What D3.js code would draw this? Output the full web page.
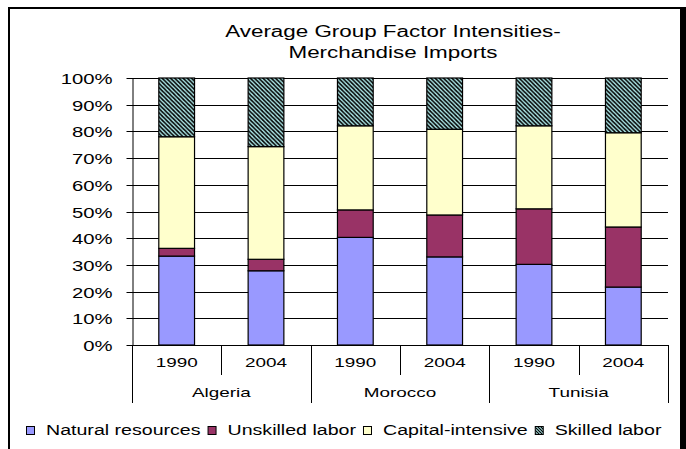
<!DOCTYPE html>
<html>
<head>
<meta charset="utf-8">
<script src="https://cdn.jsdelivr.net/npm/d3@7"></script>
<style>
  html, body { margin: 0; padding: 0; background: #fff; }
  svg { display: block; font-family: "Liberation Sans", Arial, sans-serif; }
</style>
</head>
<body>
<svg id="chart" width="686" height="449"></svg>
<script>
// Category hierarchy along the x axis
const countries = ["Algeria", "Morocco", "Tunisia"];
const years = ["1990", "2004"];

// Series (percent share of each factor group, per country-year)
const seriesNames = ["Natural resources", "Unskilled labor", "Capital-intensive", "Skilled labor"];
const naturalResources = [33.3, 27.8, 40.3, 33.0, 30.2, 21.7];
const unskilledLabor   = [2.9, 4.3, 10.3, 15.7, 20.8, 22.5];
const capitalIntensive = [41.8, 42.2, 31.5, 32.1, 31.1, 35.3];
const skilledLabor     = [22.0, 25.7, 17.9, 19.2, 17.9, 20.5];

// Y axis ticks
const yTicks = [0, 0.1, 0.2, 0.3, 0.4, 0.5, 0.6, 0.7, 0.8, 0.9, 1.0];

const titleLines = ["Average Group Factor Intensities-", "Merchandise Imports"];

const fills = ["#9999ff", "#993366", "#ffffcc", "url(#skilled)"];
const swatchFills = ["#9999ff", "#993366", "#ffffcc", "url(#skilledSmall)"];
const SX = 1.4; // horizontal stretch of the text

const svg = d3.select("#chart");

// Diagonal hatch used for the skilled-labor segments
const defs = svg.append("defs");
function hatch(id, size, sw) {
  const p = defs.append("pattern").attr("id", id)
    .attr("patternUnits", "userSpaceOnUse")
    .attr("width", size).attr("height", size);
  p.append("rect").attr("width", size).attr("height", size).attr("fill", "#aee8e8");
  p.append("path")
    .attr("d", `M0,0L${size},${size}M${-size/2},${size/2}L${size/2},${size*1.5}M${size/2},${-size/2}L${size*1.5},${size/2}`)
    .attr("stroke", "#000").attr("stroke-width", sw);
}
hatch("skilled", 4.2, 1.6);
hatch("skilledSmall", 3, 1.2);

// Rows: one per country-year
const rows = [];
countries.forEach((c, ci) => years.forEach((yr, yi) => {
  const i = ci * years.length + yi;
  rows.push({
    key: i, country: c, year: yr,
    "Natural resources": naturalResources[i],
    "Unskilled labor": unskilledLabor[i],
    "Capital-intensive": capitalIntensive[i],
    "Skilled labor": skilledLabor[i]
  });
}));

const stacked = d3.stack().keys(seriesNames).offset(d3.stackOffsetExpand)(rows);

const plot = { left: 132, right: 668, top: 78, bottom: 345 };

const x = d3.scaleBand().domain(rows.map(d => d.key)).range([plot.left, plot.right]).padding(0);
const y = d3.scaleLinear().domain([0, 1]).range([plot.bottom, plot.top]);
const barW = x.bandwidth() * 0.4;
const crisp = v => Math.round(v) + 0.5;

function stretchedText(g, tx, ty, txt, anchor, size, weight) {
  return g.append("text")
    .attr("transform", `translate(${tx},${ty}) scale(${SX},1)`)
    .attr("text-anchor", anchor)
    .attr("font-size", size)
    .attr("font-weight", weight || "normal")
    .attr("fill", "#000")
    .text(txt);
}

// Chart frame
svg.append("path")
  .attr("d", "M9,449V8H683")
  .attr("fill", "none").attr("stroke", "#000").attr("stroke-width", 2);
svg.append("rect")
  .attr("x", 680).attr("y", 7).attr("width", 6).attr("height", 442)
  .attr("fill", "#000");

// Title
titleLines.forEach((t, i) => stretchedText(svg, 393, 37 + i * 21, t, "middle", 16));

// Gridlines
svg.append("g").selectAll("line").data(yTicks.filter(t => t > 0)).join("line")
  .attr("x1", plot.left).attr("x2", plot.right)
  .attr("y1", d => crisp(y(d))).attr("y2", d => crisp(y(d)))
  .attr("stroke", "#000").attr("stroke-width", 1);

// Y axis
const yAxis = svg.append("g")
  .attr("transform", `translate(${crisp(plot.left)},0)`)
  .call(d3.axisLeft(y).tickValues(yTicks).tickFormat(d3.format(".0%")).tickSizeOuter(0).tickSizeInner(6))
  .call(g => g.select(".domain").attr("stroke", "#000"))
  .call(g => g.selectAll(".tick line").attr("stroke", "#000"));
yAxis.selectAll(".tick")
  .attr("transform", d => `translate(0,${crisp(y(d))})`);
yAxis.selectAll(".tick text")
  .attr("font-family", "'Liberation Sans', Arial, sans-serif")
  .attr("font-size", 14.5).attr("fill", "#000")
  .attr("x", -20 / SX).attr("dy", "0.36em")
  .attr("transform", `scale(${SX},1)`);

// Stacked bars
svg.append("g").selectAll("g").data(stacked).join("g")
  .attr("fill", (d, i) => fills[i])
  .selectAll("rect").data(d => d).join("rect")
  .attr("x", d => x(d.data.key) + (x.bandwidth() - barW) / 2)
  .attr("width", barW)
  .attr("y", d => y(d[1]))
  .attr("height", d => y(d[0]) - y(d[1]))
  .attr("stroke", "#000").attr("stroke-width", 1.2);

// Two-level category axis
const cat = svg.append("g");
cat.append("line")
  .attr("x1", plot.left).attr("x2", plot.right)
  .attr("y1", crisp(plot.bottom)).attr("y2", crisp(plot.bottom))
  .attr("stroke", "#000");
// separators between years and between countries
rows.forEach((r, i) => {
  const xx = crisp(x(r.key));
  const groupEdge = i % years.length === 0;
  cat.append("line")
    .attr("x1", xx).attr("x2", xx)
    .attr("y1", plot.bottom).attr("y2", groupEdge ? 403 : 375)
    .attr("stroke", "#000");
  stretchedText(cat, x(r.key) + x.bandwidth() / 2, 367, r.year, "middle", 13.5);
});
const lastX = crisp(plot.right);
cat.append("line")
  .attr("x1", lastX).attr("x2", lastX)
  .attr("y1", plot.bottom).attr("y2", 403)
  .attr("stroke", "#000");
countries.forEach((c, ci) => {
  const x0 = x(ci * years.length);
  const x1 = x(ci * years.length + years.length - 1) + x.bandwidth();
  stretchedText(cat, (x0 + x1) / 2, 397, c, "middle", 13.5);
});

// Legend
const legend = svg.append("g");
let lx = 26;
seriesNames.forEach((name, i) => {
  legend.append("rect")
    .attr("x", lx + 0.5).attr("y", 426.5).attr("width", 8).attr("height", 8)
    .attr("fill", swatchFills[i]).attr("stroke", "#000").attr("stroke-width", 1);
  const t = stretchedText(legend, lx + 20, 435, name, "start", 14);
  lx += 20 + t.node().getComputedTextLength() * SX + 7;
});
</script>
</body>
</html>
